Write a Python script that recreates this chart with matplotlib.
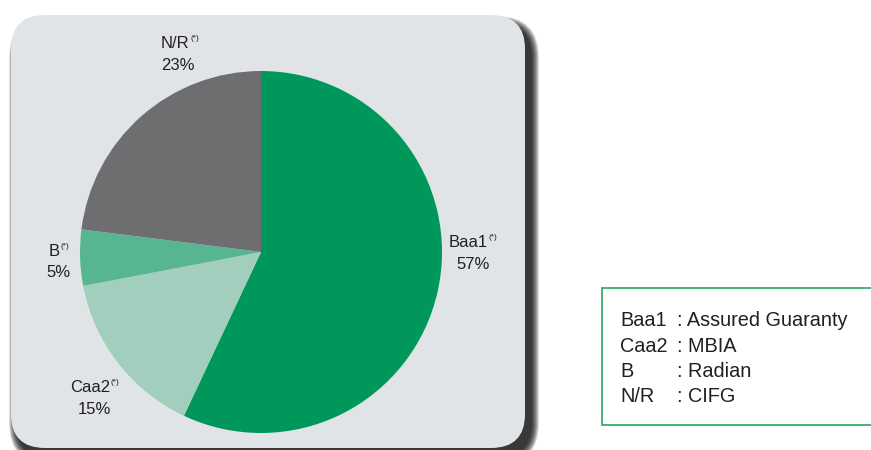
import matplotlib.pyplot as plt
from matplotlib.patches import FancyBboxPatch, Rectangle

plt.rcParams['font.family'] = ['Liberation Sans', 'DejaVu Sans']

# data
ratings = ['Baa1', 'Caa2', 'B', 'N/R']
shares = [57, 15, 5, 23]
colors = ['#00985a', '#a1cebd', '#58b592', '#6e6e70']
insurers = ['Assured Guaranty', 'MBIA', 'Radian', 'CIFG']

W, H = 871, 450
fig = plt.figure(figsize=(W / 100, H / 100), dpi=100)
fig.patch.set_facecolor('white')

# background axes in pixel coordinates (y downwards)
bg = fig.add_axes([0, 0, 1, 1])
bg.set_xlim(0, W)
bg.set_ylim(H, 0)
bg.axis('off')

# blurred drop shadow of the panel, then the panel itself
px0, py0, px1, py1 = 11, 15, 525, 448
for i in range(16):
    g = 16 - i
    bg.add_patch(FancyBboxPatch((px0 + 6 - g / 2, py0 + 9 - g / 2),
                                px1 - px0 + g, py1 - py0 + g,
                                boxstyle='round,pad=0,rounding_size=%d' % (34 + g / 2),
                                fc='black', ec='none', alpha=0.085, zorder=1))
bg.add_patch(FancyBboxPatch((px0, py0), px1 - px0, py1 - py0,
                            boxstyle='round,pad=0,rounding_size=34',
                            fc='#e1e4e7', ec='none', zorder=2))

# pie
cx, cy, r = 261, 252, 181
ax = fig.add_axes([(cx - r) / W, (H - cy - r) / H, 2 * r / W, 2 * r / H])
ax.pie(shares, colors=colors, startangle=90, counterclock=False,
       wedgeprops=dict(linewidth=0))
ax.set_xlim(-1, 1)
ax.set_ylim(-1, 1)
ax.axis('off')

# slice labels: (name x, name baseline, pct x, pct baseline)
label_pos = {
    'Baa1': (468, 247, 473, 269),
    'Caa2': (90, 392, 94, 414),
    'B': (54, 256, 58, 277),
    'N/R': (175, 48, 178, 70),
}
txt = '#231f20'
for name, val in zip(ratings, shares):
    nx, ny, vx, vy = label_pos[name]
    t = bg.text(nx, ny, name, ha='center', va='baseline', fontsize=12,
                color=txt, zorder=5)
    bg.annotate('(*)', xy=(1, 1), xycoords=t, xytext=(0.5, 0.5),
                textcoords='offset points', ha='left', va='top',
                fontsize=6, color=txt, zorder=5)
    bg.text(vx, vy, '%d%%' % val, ha='center', va='baseline', fontsize=12,
            color=txt, zorder=5)

# legend box
bg.add_patch(Rectangle((602, 288), 290, 137, fc='white', ec='#3aaa6e',
                       lw=1.3, zorder=3, clip_on=False))
for i, (rt, ins) in enumerate(zip(ratings, insurers)):
    yb = 326 + i * 25.5
    bg.text(620, yb, rt, ha='left', va='baseline', fontsize=14.3, color=txt, zorder=5)
    bg.text(677, yb, ': ' + ins, ha='left', va='baseline', fontsize=14.3,
            color=txt, zorder=5)

fig.savefig('out.png', dpi=100)
